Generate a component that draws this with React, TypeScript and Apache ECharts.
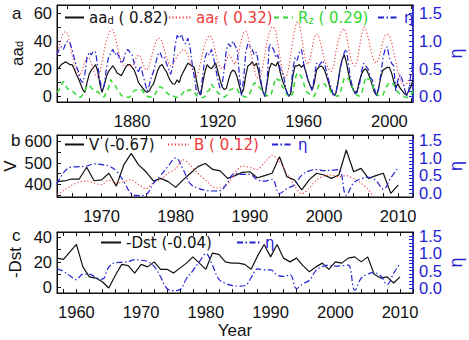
import React, { useEffect, useRef } from 'react';
import * as echarts from 'echarts';

// ---- Panel a: annual values 1845-2011 (aa index components, scaled R_z, and eta) ----
const AA_START = 1845;
const aaD = [
  19, 21, 23, 24, 25, 24, 23, 23, 20, 16,
  13, 9, 5, 3, 10, 16, 19, 21, 23, 18,
  9, 3, 8, 14, 18, 20, 22, 20, 17, 16,
  15, 18, 21, 23, 23, 21, 19, 15, 10, 8,
  6, 4, 3, 4, 7, 9, 14, 19, 22, 23,
  20, 18, 14, 11, 9, 9, 12, 10, 15, 18,
  21, 24, 23, 22, 21, 12, 4, 1, 10, 18,
  23, 21, 20, 22, 24, 18, 12, 7, 5, 6,
  12, 17, 19, 18, 14, 8, 2, 5, 15, 22,
  23, 25, 22, 24, 18, 10, 4, 0, 10, 20,
  24, 23, 22, 25, 18, 12, 8, 4, 0, 2,
  15, 22, 22, 23, 21, 23, 18, 12, 8, 5,
  10, 19, 21, 22, 21, 18, 13, 8, 4, 1,
  2, 10, 20, 27, 30, 24, 16, 9, 5, 3,
  4, 11, 16, 19, 20, 17, 13, 8, 3, 1,
  6, 14, 19, 20, 21, 21, 17, 11, 7, 9,
  6, 4, 2, 1, 4, 7, 12,
];
const aaF = [
  30, 36, 42, 46, 47, 45, 38, 30, 24, 19,
  15, 16, 20, 25, 28, 28, 24, 19, 15, 14,
  17, 25, 33, 40, 45, 48, 48, 44, 37, 30,
  25, 22, 22, 23, 22, 21, 24, 28, 30, 29,
  24, 20, 19, 22, 28, 34, 39, 42, 42, 40,
  34, 28, 24, 22, 23, 26, 29, 31, 33, 34,
  33, 30, 25, 20, 16, 14, 18, 25, 32, 38,
  42, 44, 43, 38, 31, 25, 21, 20, 22, 26,
  30, 29, 25, 23, 27, 34, 41, 46, 47, 44,
  36, 27, 19, 14, 13, 15, 22, 31, 40, 46,
  50, 50, 47, 38, 28, 19, 14, 14, 20, 30,
  41, 50, 54, 52, 44, 33, 25, 23, 27, 35,
  43, 45, 44, 38, 31, 25, 22, 19, 18, 22,
  32, 39, 45, 48, 49, 44, 35, 27, 23, 22,
  26, 35, 44, 50, 49, 43, 36, 29, 25, 24,
  27, 33, 40, 44, 45, 44, 39, 32, 25, 18,
  12, 9, 8, 9, 12, 14, 16,
];
const rzScaled = [
  2.8, 4.8, 8.4, 10.8, 8.1, 5.3, 5.1, 4.1, 2.7, 1.0,
  -0.4, -0.6, 1.2, 4.2, 7.9, 8.1, 6.3, 4.6, 3.2, 3.5,
  1.9, 0.5, -0.3, 2.6, 6.0, 12.2, 9.6, 8.7, 5.3, 3.2,
  0.6, 0.1, 0.2, -0.7, -0.4, 2.1, 4.2, 4.7, 5.1, 5.0,
  4.0, 1.4, 0.2, -0.4, -0.4, -0.3, 2.4, 5.9, 7.1, 6.4,
  5.1, 3.0, 1.5, 1.5, 0.1, -0.1, -0.7, -0.5, 1.3, 3.0,
  5.0, 4.1, 4.9, 3.6, 3.2, 0.8, -0.5, -0.7, -0.9, -0.1,
  3.5, 4.4, 8.9, 6.7, 5.0, 2.6, 1.5, 0.3, -0.4, 0.6,
  3.2, 5.1, 5.6, 6.4, 5.2, 2.4, 1.0, 0.1, -0.5, -0.2,
  2.4, 6.6, 9.9, 9.4, 7.4, 5.4, 3.5, 1.9, 0.5, -0.1,
  2.2, 7.8, 13.4, 11.9, 11.8, 7.0, 5.6, 2.0, 0.3, -0.6,
  2.6, 12.5, 17.1, 16.6, 14.1, 9.7, 4.1, 2.6, 1.7, 0.0,
  0.4, 3.5, 7.9, 9.1, 9.0, 8.9, 5.3, 5.5, 2.6, 2.3,
  0.5, 0.2, 1.6, 7.8, 13.8, 13.7, 12.3, 10.0, 5.3, 3.4,
  0.7, 0.3, 1.8, 8.5, 14.0, 12.5, 12.8, 8.0, 4.2, 1.8,
  0.7, -0.2, 1.0, 5.1, 7.9, 10.4, 9.5, 8.9, 5.1, 2.8,
  1.8, 0.4, -0.3, -0.7, -0.7, 0.6, 4.3,
];
const etaLong = [
  0.75, 0.85, 0.9, 0.85, 0.95, 1.0, 0.98, 0.85, 0.7, 0.55,
  0.45, 0.3, 0.25, 0.4, 0.7, 0.8, 0.75, 0.82, 0.8, 0.55,
  0.3, 0.12, 0.2, 0.5, 0.7, 0.78, 0.85, 0.75, 0.8, 0.7,
  0.6, 0.65, 0.8, 0.85, 0.8, 0.75, 0.6, 0.5, 0.45, 0.55,
  0.4, 0.25, 0.1, 0.2, 0.35, 0.45, 0.6, 0.75, 0.8, 0.7,
  0.72, 0.6, 0.5, 0.4, 0.55, 0.9, 1.1, 1.05, 1.12, 1.0,
  0.95, 1.05, 0.9, 0.6, 0.35, 0.1, 0.02, 0.05, 0.4, 0.7,
  0.8, 0.75, 0.85, 0.7, 0.5, 0.3, 0.15, 0.2, 0.5, 0.85,
  0.95, 0.9, 1.0, 0.92, 0.85, 0.4, 0.02, 0.3, 0.8, 0.95,
  0.9, 0.85, 0.75, 0.8, 0.6, 0.3, 0.1, 0.0, 0.3, 0.95,
  0.9, 0.85, 0.7, 0.75, 0.5, 0.45, 0.3, 0.1, 0.0, 0.1,
  0.5, 0.7, 0.65, 0.8, 0.85, 0.6, 0.45, 0.3, 0.2, 0.1,
  0.35, 0.6, 0.55, 0.6, 0.65, 0.55, 0.4, 0.25, 0.15, 0.0,
  0.05, 0.25, 0.5, 0.65, 0.8, 0.85, 0.55, 0.3, 0.15, 0.05,
  0.08, 0.2, 0.45, 0.6, 0.55, 0.5, 0.35, 0.3, 0.15, 0.0,
  0.15, 0.4, 0.7, 0.85, 0.9, 0.7, 0.6, 0.55, 0.1, 0.3,
  0.4, 0.3, 0.15, 0.0, 0.1, 0.4, 0.65,
];

// ---- Panel b: solar wind speed V and scaled B, 1964-2010 ----
const SW_START = 1964;
const swSpeed = [
  412, 415, 424, 424, 479, 416, 420, 451, 391, 490,
  544, 490, 458, 415, 427, 412, 385, 420, 451, 482,
  497, 469, 462, 427, 440, 455, 458, 430, 440, 451,
  528, 435, 420, 373, 420, 451, 443, 427, 443, 560,
  458, 474, 427, 440, 451, 357, 396,
];
const imfB = [
  350, 372, 395, 410, 415, 405, 398, 418, 405, 412,
  420, 398, 378, 408, 422, 452, 472, 515, 488, 450,
  420, 388, 382, 398, 455, 485, 478, 470, 500, 535,
  505, 450, 395, 355, 382, 420, 438, 442, 435, 440,
  425, 405, 372, 330, 315, 305, 320,
];

// ---- Panel c: -Dst and eta, 1957-2010 ----
const DST_START = 1957;
const dstNeg = [
  23, 22, 28, 34, 16, 8, 7, 4, -1, 9,
  18, 17, 11, 18, 16, 20, 14, 14, 11, 15,
  19, 24, 19, 14, 27, 26, 20, 19, 19, 18,
  14, 25, 34, 24, 34, 23, 20, 23, 17, 12,
  16, 19, 14, 20, 19, 23, 24, 20, 24, 10,
  7, 8, 3, 8,
];
const etaSW = [
  0.55, 0.48, 0.35, 0.24, 0.4, 0.4, 0.3, 0.25, 0.6, 0.73,
  0.74, 0.76, 0.82, 0.8, 0.76, 0.62, 0.32, -0.02, -0.08, -0.05,
  0.27, 0.5, 0.76, 0.99, 0.66, 0.25, 0.13, 0.07, 0.05, 0.06,
  0.3, 0.55, 0.52, 0.52, 0.37, 0.33, 0.38, -0.02, 0.12, 0.22,
  0.5, 0.62, 0.66, 0.63, 0.64, 0.66, -0.07, 0.28, 0.4, 0.44,
  0.35, 0.1, 0.42, 0.71,
];

// ---- Tick labels ----
const yearLabelsA = [1880, 1920, 1960, 2000];
const yearLabelsB = [1970, 1980, 1990, 2000, 2010];
const yearLabelsC = [1960, 1970, 1980, 1990, 2000, 2010];
const aaLabels = [0, 20, 40, 60];
const vLabels = [400, 500, 600];
const dstLabels = [0, 20, 40];
const etaLabels = [0, 0.5, 1.0, 1.5];

// Legend texts (rich-text markup for subscripts)
const LEGEND_TEXT: Record<string, string> = {
  aa_d: '{t|aa}{s|d}{t| ( 0.82)}',
  aa_f: '{t|aa}{s|f}{t| ( 0.32)}',
  R_z: '{t|R}{s|z}{t| ( 0.29)}',
  eta_a: '{t|η}',
  V: '{t|V (-0.67)}',
  B: '{t|B ( 0.12)}',
  eta_b: '{t|η}',
  Dst: '{t|-Dst (-0.04)}',
  eta_c: '{t|η}',
};

const FONT = '"Liberation Sans", Arial, Helvetica, sans-serif';
const LEG_FONT = '"DejaVu Sans", Verdana, sans-serif';
const BLACK = '#111111';
const RED = '#ef3b3b';
const GREEN = '#30d830';
const BLUE = '#2222d4';

const SOLID: any = 'solid';
const DOTTED = [1.2, 2.2];
const DASHED = [5, 4];
const DASHDOT = [6, 2.5, 1.5, 2.5];

const range = (a: number, b: number, step: number) => {
  const out: number[] = [];
  for (let v = a; v <= b + 1e-9; v += step) out.push(Math.round(v * 1000) / 1000);
  return out;
};
const pairs = (start: number, values: number[]) => values.map((v, i) => [start + i, v]);

const GRIDS = [
  { top: 5, height: 97 },
  { top: 135, height: 62 },
  { top: 232, height: 61 },
];

const labelBase = {
  show: true,
  fontSize: 16.5,
  lineHeight: 13,
  fontFamily: FONT,
  hideOverlap: false,
  showMinLabel: true,
  showMaxLabel: true,
};

function xAxes(gridIndex: number, min: number, max: number, labels: number[], ticks: number[], extra: any = {}) {
  const base = {
    type: 'value',
    gridIndex,
    min,
    max,
    splitLine: { show: false },
    axisLine: { show: true, onZero: false, lineStyle: { color: BLACK, width: 1 } },
    axisTick: { show: true, inside: true, length: 4, customValues: ticks, lineStyle: { color: BLACK } },
  };
  return [
    {
      ...base,
      position: 'bottom',
      axisLabel: {
        ...labelBase,
        customValues: labels,
        margin: 12,
        color: BLACK,
        formatter: (v: number) => String(v),
      },
      ...extra,
    },
    { ...base, position: 'top', axisLabel: { show: false } },
  ];
}

function leftY(gridIndex: number, min: number, max: number, labels: number[], ticks: number[], name: string, nameGap: number) {
  return {
    type: 'value',
    gridIndex,
    position: 'left',
    min,
    max,
    splitLine: { show: false },
    axisLine: { show: true, onZero: false, lineStyle: { color: BLACK, width: 1 } },
    axisTick: { show: true, inside: true, length: 4, customValues: ticks, lineStyle: { color: BLACK } },
    axisLabel: {
      ...labelBase,
      customValues: labels,
      margin: 5,
      color: BLACK,
      formatter: (v: number) => String(v),
    },
    name,
    nameLocation: 'middle',
    nameGap,
    nameMoveOverlap: false,
    nameTextStyle: {
      fontSize: 17,
      lineHeight: 14,
      fontFamily: FONT,
      color: BLACK,
      rich: {
        t: { fontSize: 17, fontFamily: FONT, color: BLACK },
        s: { fontSize: 11, fontFamily: FONT, color: BLACK, verticalAlign: 'bottom', padding: [8, 0, 0, 0] },
      },
    },
  };
}

function rightY(gridIndex: number, min: number, max: number) {
  return {
    type: 'value',
    gridIndex,
    position: 'right',
    min,
    max,
    splitLine: { show: false },
    axisLine: { show: true, onZero: false, lineStyle: { color: BLUE, width: 1.5 } },
    axisTick: { show: true, inside: true, length: 4, customValues: range(0, 1.5, 0.1), lineStyle: { color: BLUE } },
    axisLabel: {
      ...labelBase,
      customValues: etaLabels,
      margin: 6,
      color: BLUE,
      formatter: (v: number) => v.toFixed(1),
    },
    name: 'η',
    nameLocation: 'middle',
    nameGap: 36,
    nameMoveOverlap: false,
    nameTextStyle: { fontSize: 18, lineHeight: 14, fontFamily: FONT, color: BLUE },
  };
}

function series(name: string, data: number[][], axis: any, color: string, type: any, width: number, smooth: any = false) {
  return {
    type: 'line',
    name,
    data,
    xAxisIndex: axis.x,
    yAxisIndex: axis.y,
    symbol: 'none',
    showSymbol: false,
    smooth,
    clip: true,
    silent: true,
    lineStyle: { color, type, width },
    itemStyle: { color },
  };
}

function legendItem(name: string, left: number, top: number, color: string, itemWidth = 20) {
  return {
    data: [name],
    left,
    top,
    padding: 0,
    itemWidth,
    itemHeight: 12,
    itemGap: 4,
    selectedMode: false,
    itemStyle: { opacity: 0 },
    formatter: () => LEGEND_TEXT[name],
    textStyle: {
      color,
      fontSize: 15,
      fontFamily: LEG_FONT,
      rich: {
        t: { color, fontSize: 15, fontFamily: LEG_FONT },
        s: { color, fontSize: 10, fontFamily: LEG_FONT, verticalAlign: 'bottom', padding: [6, 0, 0, 0] },
      },
    },
  };
}

export default function App() {
  const ref = useRef<HTMLDivElement>(null);

  useEffect(() => {
    if (!ref.current) return;
    const chart = echarts.init(ref.current, undefined, { renderer: 'svg' });

    const A = { x: 0, y: 0 };
    const Ar = { x: 0, y: 1 };
    const Bl = { x: 2, y: 2 };
    const Br = { x: 2, y: 3 };
    const Cl = { x: 4, y: 4 };
    const Cr = { x: 4, y: 5 };

    const titleStyle = { fontSize: 17, fontWeight: 'normal', fontFamily: FONT, color: BLACK };

    const option: any = {
      animation: false,
      backgroundColor: '#ffffff',
      title: [
        { text: 'a', left: 7, top: 0, textStyle: titleStyle },
        { text: 'b', left: 6, top: 127, textStyle: titleStyle },
        { text: 'c', left: 7, top: 222, textStyle: titleStyle },
      ],
      grid: GRIDS.map((g) => ({
        left: 57,
        right: 56,
        top: g.top,
        height: g.height,
        show: true,
        borderColor: BLACK,
        borderWidth: 1,
        backgroundColor: 'transparent',
        containLabel: false,
        outerBoundsMode: 'none',
      })),
      xAxis: [
        ...xAxes(0, 1845, 2011, yearLabelsA, range(1850, 2010, 10)),
        ...xAxes(1, 1964, 2012, yearLabelsB, range(1964, 2012, 2)),
        ...xAxes(2, 1957, 2012, yearLabelsC, range(1958, 2012, 2), {
          name: 'Year',
          nameLocation: 'middle',
          nameGap: 30,
          nameMoveOverlap: false,
          nameTextStyle: { fontSize: 17, lineHeight: 14, fontFamily: FONT, color: BLACK },
        }),
      ],
      yAxis: [
        leftY(0, -4, 66, aaLabels, range(0, 60, 10), '{t|aa}{s|d}', 33),
        rightY(0, -0.1, 1.65),
        leftY(1, 340, 630, vLabels, range(350, 600, 50), 'V', 40),
        rightY(1, -0.12, 1.64),
        leftY(2, -5, 44, dstLabels, range(0, 40, 10), '-Dst', 35),
        rightY(2, -0.15, 1.62),
      ],
      legend: [
        legendItem('aa_d', 64, 10, BLACK, 19),
        legendItem('aa_f', 168, 10, RED, 22),
        legendItem('R_z', 273, 10, GREEN, 19),
        legendItem('eta_a', 377, 10, BLUE, 21),
        legendItem('V', 64, 137, BLACK, 19),
        legendItem('B', 167, 137, RED, 21),
        legendItem('eta_b', 271, 137, BLUE, 21),
        legendItem('Dst', 100, 235, BLACK, 20),
        legendItem('eta_c', 236, 235, BLUE, 23),
      ],
      series: [
        series('aa_d', pairs(AA_START, aaD), A, BLACK, SOLID, 1.2),
        series('aa_f', pairs(AA_START, aaF), A, RED, DOTTED, 1.1),
        series('R_z', pairs(AA_START, rzScaled), A, GREEN, DASHED, 1.5),
        series('eta_a', pairs(AA_START, etaLong), Ar, BLUE, DASHDOT, 1.2),

        series('V', pairs(SW_START, swSpeed), Bl, BLACK, SOLID, 1.2),
        series('B', pairs(SW_START, imfB), Bl, RED, DOTTED, 1.1, 0.3),
        series('eta_b', pairs(DST_START, etaSW).filter((p) => p[0] >= SW_START), Br, BLUE, DASHDOT, 1.2, 0.4),

        series('Dst', pairs(DST_START, dstNeg), Cl, BLACK, SOLID, 1.2),
        series('eta_c', pairs(DST_START, etaSW), Cr, BLUE, DASHDOT, 1.2, 0.4),
      ],
    };

    chart.setOption(option);
    return () => chart.dispose();
  }, []);

  return (
    <div
      ref={ref}
      style={{ position: 'fixed', left: 0, top: 0, width: 469, height: 340, background: '#fff' }}
    />
  );
}
